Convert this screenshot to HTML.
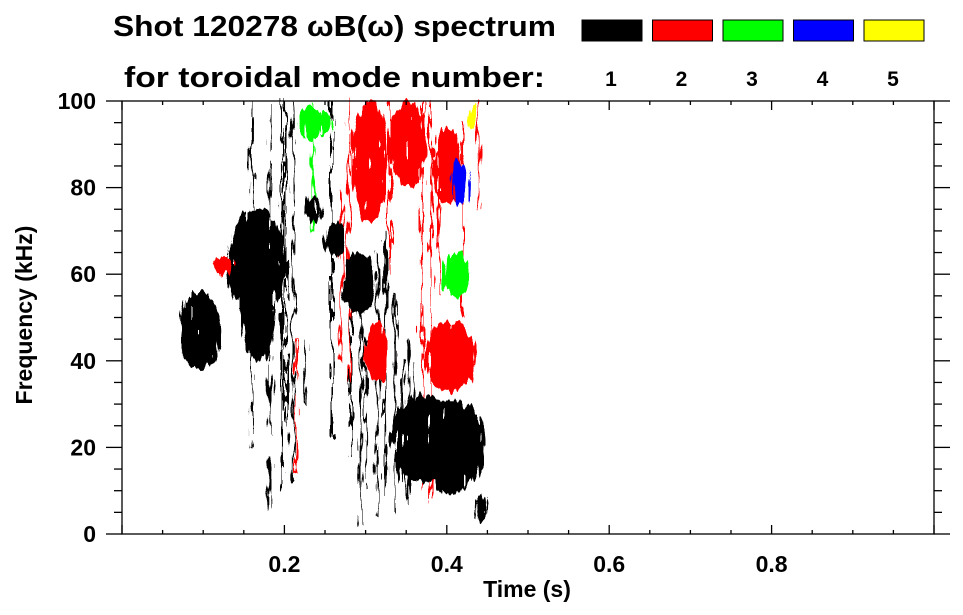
<!DOCTYPE html>
<html><head><meta charset="utf-8"><style>
html,body{margin:0;padding:0;background:#fff}
svg{display:block}
text{font-family:"Liberation Sans",Arial,sans-serif;font-weight:bold;fill:#000}
</style></head><body>
<svg id="chart" width="963" height="615" viewBox="0 0 963 615">
<defs>
<filter id="rough" x="-15%" y="-15%" width="130%" height="130%">
<feTurbulence type="fractalNoise" baseFrequency="0.22 0.035" numOctaves="2" seed="3" result="n"/>
<feDisplacementMap in="SourceGraphic" in2="n" scale="14" xChannelSelector="R" yChannelSelector="G" result="d"/>
<feComponentTransfer in="n" result="m"><feFuncA type="discrete" tableValues="0 1 1 1"/></feComponentTransfer>
<feComposite in="d" in2="m" operator="in"/>
</filter>
</defs>
<g id="header">
<text x="113" y="36" font-size="29" textLength="443" lengthAdjust="spacingAndGlyphs">Shot 120278 ωB(ω) spectrum</text>
<text x="124" y="87" font-size="29" textLength="421" lengthAdjust="spacingAndGlyphs">for toroidal mode number:</text>
</g>
<g id="legend"></g>
<g id="marks" filter="url(#rough)"></g>
<g id="axes"></g>
<text x="527" y="597" font-size="23" text-anchor="middle">Time (s)</text>
<text transform="translate(32,315) rotate(-90)" font-size="23" text-anchor="middle">Frequency (kHz)</text>
</svg>
<script>
const modeLabels=["1","2","3","4","5"];
const modeColors=["#000000","#ff0000","#00ff00","#0000ff","#ffff00"];
const xTicks=[0.2,0.4,0.6,0.8];
const yTicks=[0,20,40,60,80,100];
// blobs: centre time (s), centre freq (kHz), half-width (s), half-height (kHz), mode index
const blobT=[0.096,0.165,0.168,0.150,0.236,0.262,0.292,0.372,0.405,0.428,0.443,0.305,0.352,0.400,0.405,0.315,0.125,0.232,0.250,0.412,0.416,0.430];
const blobF=[47,62,50,66,75,68,58,22,20,21,6,86,90,85,41,42,62,95,95,60,81,96];
const blobW=[0.025,0.036,0.020,0.014,0.010,0.012,0.020,0.040,0.030,0.018,0.006,0.022,0.022,0.018,0.032,0.014,0.012,0.014,0.006,0.018,0.010,0.004];
const blobH=[9,13,10,6,3,4,7,10,11,9,3,14,10,9,8,7,2,4,3,5,5,3];
const blobMode=[0,0,0,0,0,0,0,0,0,0,0,1,1,1,1,1,1,2,2,2,3,4];
// vertical streaks: time, low freq, high freq, mode
const stT=[0.160,0.182,0.197,0.202,0.211,0.225,0.258,0.282,0.294,0.300,0.315,0.324,0.336,0.345,0.352,0.360,0.370,0.380,0.215,0.270,0.235,0.280,0.330,0.390,0.420,0.440];
const stF0=[20,5,10,25,12,30,22,18,2,10,4,8,5,12,6,14,10,8,14,40,70,35,60,55,50,75];
const stF1=[100,100,100,100,100,45,100,60,60,45,65,70,55,40,45,40,100,100,45,80,100,100,100,90,95,100];
const stMode=[0,0,0,0,0,0,0,0,0,0,0,0,0,0,0,0,1,1,1,1,2,1,1,1,1,1];
const NS="http://www.w3.org/2000/svg";
const X0=122,X1=934,Y0=534,Y1=101;
function xs(t){return X0+(t-0)/(1-0)*(X1-X0);}
function ys(f){return Y0-(f-0)/(100-0)*(Y0-Y1);}
function mk(tag,attrs,parent){const e=document.createElementNS(NS,tag);for(const k in attrs)e.setAttribute(k,attrs[k]);parent.appendChild(e);return e;}
const leg=document.getElementById('legend');
modeLabels.forEach((m,i)=>{
  const x=582+i*70.5;
  const r=mk('rect',{x:x,y:20,width:60,height:21,fill:modeColors[i],stroke:'#000','stroke-width':1},leg);
  
  
  const t=mk('text',{x:x+29,y:86,'font-size':21,'text-anchor':'middle'},leg);
  t.textContent=m;
  
  
});
const marks=document.getElementById('marks');
stT.forEach((t,i)=>{
  const r=mk('rect',{x:xs(t)-1,y:ys(stF1[i]),width:2,height:ys(stF0[i])-ys(stF1[i]),fill:modeColors[stMode[i]]},marks);
  
  
});
blobT.forEach((t,i)=>{
  const e=mk('ellipse',{cx:xs(t),cy:ys(blobF[i]),rx:xs(blobW[i])-xs(0),ry:ys(0)-ys(blobH[i]),fill:modeColors[blobMode[i]]},marks);
  
  
});
const ax=document.getElementById('axes');
const frame=mk('rect',{x:X0,y:Y1,width:X1-X0,height:Y0-Y1,fill:'none',stroke:'#000','stroke-width':1.3},ax);


for(let k=0;k<=20;k++){
  const t=k*0.05,x=xs(t),maj=(k%4===0);
  mk('line',{x1:x,x2:x,y1:Y0,y2:Y0-(maj?9:4),stroke:'#000','stroke-width':1.3},ax);
  mk('line',{x1:x,x2:x,y1:Y1,y2:Y1+(maj?9:4),stroke:'#000','stroke-width':1.3},ax);
  const f=k*5,y=ys(f),mj=(k%4===0);
  mk('line',{x1:X0,x2:X0-(mj?16:8),y1:y,y2:y,stroke:'#000','stroke-width':1.3},ax);
  mk('line',{x1:X1,x2:X1+(mj?16:8),y1:y,y2:y,stroke:'#000','stroke-width':1.3},ax);
}
xTicks.forEach(v=>{
  const t=mk('text',{x:xs(v),y:572,'font-size':23,'text-anchor':'middle'},ax);
  t.textContent=v.toFixed(1);
  
  
});
yTicks.forEach(v=>{
  const t=mk('text',{x:96,y:ys(v)+8,'font-size':23,'text-anchor':'end'},ax);
  t.textContent=String(v);
  
  
});
</script>
</body></html>
